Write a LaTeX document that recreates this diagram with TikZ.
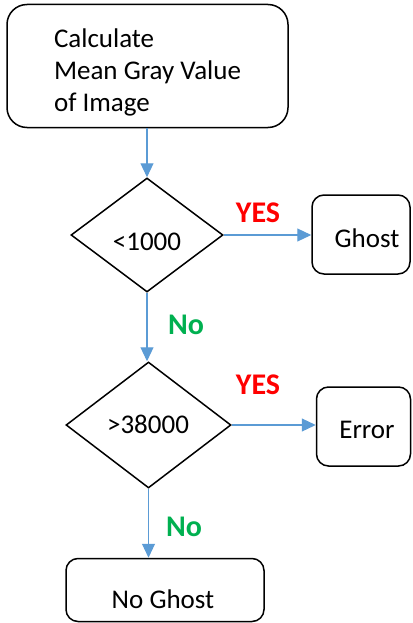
\documentclass[tikz,border=0pt]{standalone}
\usepackage{fontspec}
\setmainfont{Carlito}
\usetikzlibrary{shapes.geometric,arrows.meta}
\definecolor{arrowblue}{RGB}{91,155,213}
\definecolor{yesred}{RGB}{255,0,0}
\definecolor{nogreen}{RGB}{0,176,80}
\begin{document}
\begin{tikzpicture}[x=1pt,y=-1pt,
  txt/.style={font=\fontsize{27}{32}\selectfont},
  procbox/.style={draw=black,line width=1.5pt,rounded corners=12pt,txt,inner sep=0pt},
  decision/.style={draw=black,line width=1.5pt,diamond,txt,inner sep=0pt},
  flow/.style={draw=arrowblue,line width=1.1pt,-{Triangle[length=14pt,width=13pt]}},
  yeslbl/.style={font=\fontsize{30}{32}\selectfont\bfseries,text=yesred},
  nolbl/.style={font=\fontsize{30}{32}\selectfont\bfseries,text=nogreen}]
\useasboundingbox (0,0) rectangle (412,623);
\node[procbox,rounded corners=20pt,minimum width=281pt,minimum height=123pt] (calc) at (147.5,66) {};
\node[txt,align=left] (calct) at (147.5,72) {Calculate\\Mean Gray Value\\of Image};
\node[decision,minimum width=152pt,minimum height=114pt] (d1) at (147,235) {};
\node[txt] (d1t) at (147,242) {<1000};
\node[procbox,minimum width=98pt,minimum height=79pt] (ghost) at (361,234.5) {};
\node[txt] (ghostt) at (367,238) {Ghost};
\node[decision,minimum width=165pt,minimum height=126pt] (d2) at (148.5,425) {};
\node[txt] (d2t) at (148,424) {>38000};
\node[procbox,minimum width=94pt,minimum height=79pt] (err) at (363.5,426.5) {};
\node[txt] (errt) at (367,430) {Error};
\node[procbox,minimum width=198pt,minimum height=63pt] (noghost) at (165,590) {};
\node[txt] (noghostt) at (163,599) {No Ghost};
\node[yeslbl] (yes1) at (258,213) {YES};
\node[yeslbl] (yes2) at (258,385) {YES};
\node[nolbl] (no1) at (186,325) {No};
\node[nolbl] (no2) at (184,527) {No};
\draw[flow] (calc.south -| d1.north) -- (d1.north);
\draw[flow] (d1.east) -- (ghost.west |- d1.east);
\draw[flow] (d1.south) -- (d1.south |- d2.north);
\draw[flow] (d2.east) -- (err.west |- d2.east);
\draw[flow] (d2.south) -- (d2.south |- noghost.north);
\end{tikzpicture}
\end{document}
